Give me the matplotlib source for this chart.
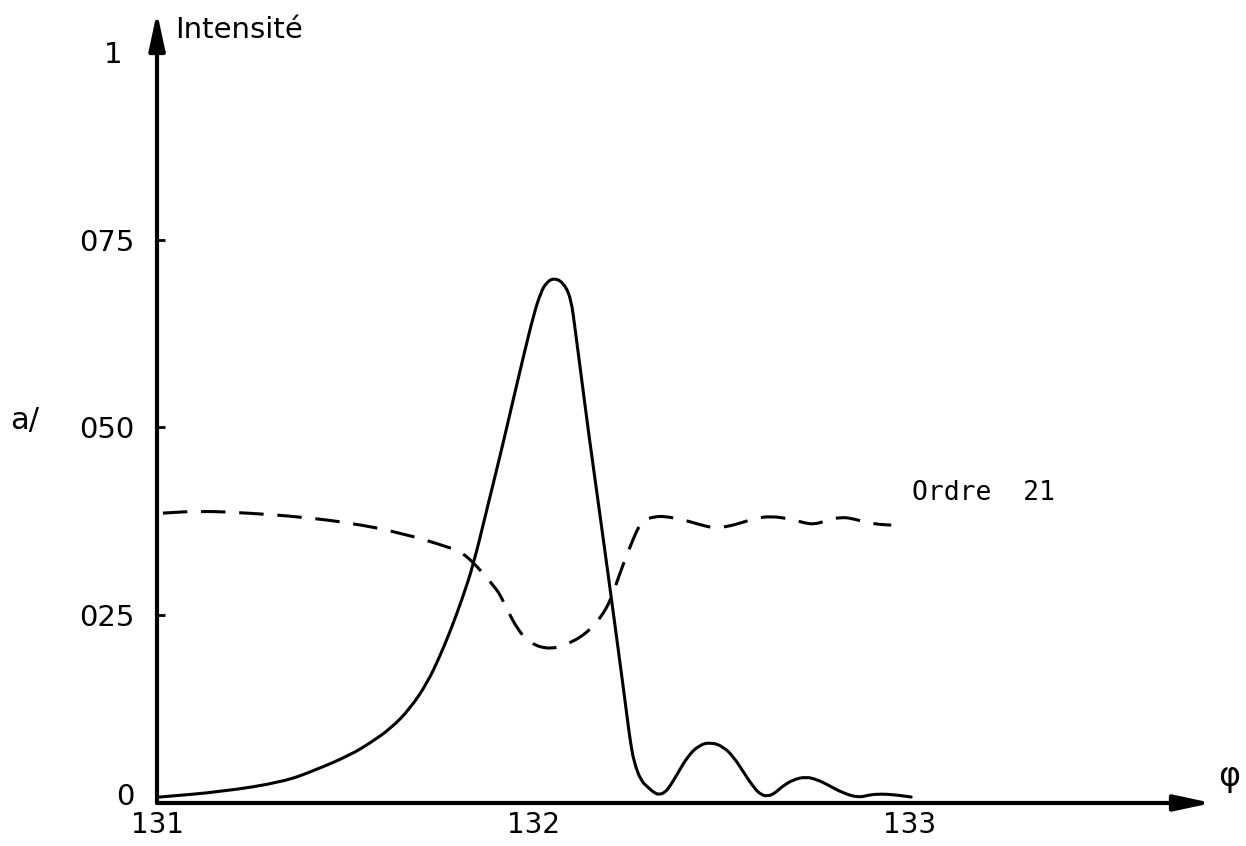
import matplotlib
matplotlib.use("Agg")
import matplotlib.pyplot as plt
from matplotlib.path import Path
from matplotlib.patches import PathPatch
from matplotlib.transforms import ScaledTranslation

# ---- data ----
phi_solid = [131.005, 131.17, 131.333, 131.42, 131.512, 131.565, 131.619, 131.67,
             131.717, 131.75, 131.779, 131.81, 131.84, 131.875, 131.912, 131.94,
             131.973, 132.0, 132.019, 132.034, 132.053, 132.077, 132.099, 132.112,
             132.125, 132.147, 132.179, 132.213, 132.237, 132.25, 132.258, 132.267,
             132.285, 132.304, 132.32, 132.333, 132.35, 132.365, 132.384, 132.41,
             132.44, 132.472, 132.505, 132.533, 132.56, 132.587, 132.605, 132.624,
             132.642, 132.659, 132.69, 132.725, 132.755, 132.784, 132.82, 132.864,
             132.895, 132.925, 132.96, 133.005]
int_solid = [0.008, 0.015, 0.028, 0.044, 0.064, 0.08, 0.099, 0.125,
             0.16, 0.195, 0.23, 0.272, 0.318, 0.39, 0.465, 0.525,
             0.595, 0.65, 0.68, 0.693, 0.699, 0.694, 0.674, 0.625,
             0.575, 0.49, 0.375, 0.25, 0.16, 0.11, 0.08, 0.055,
             0.030, 0.021, 0.014, 0.011, 0.014, 0.024, 0.04, 0.062,
             0.077, 0.081, 0.075, 0.061, 0.04, 0.02, 0.011, 0.009,
             0.013, 0.021, 0.031, 0.035, 0.031, 0.024, 0.014, 0.007,
             0.011, 0.012, 0.011, 0.008]

phi_dash = [131.013, 131.112, 131.245, 131.379, 131.512, 131.645, 131.779, 131.81,
            131.84, 131.875, 131.9, 131.912, 131.935, 131.957, 131.98, 132.005,
            132.025, 132.045, 132.07, 132.099, 132.125, 132.152, 132.18, 132.205,
            132.222, 132.24, 132.267, 132.28, 132.293, 132.32, 132.347, 132.4,
            132.44, 132.48, 132.515, 132.552, 132.59, 132.632, 132.685, 132.72,
            132.747, 132.78, 132.819, 132.855, 132.891, 132.92, 132.952]
int_dash = [0.386, 0.389, 0.386, 0.381, 0.373, 0.36, 0.34, 0.333,
            0.32, 0.30, 0.285, 0.276, 0.252, 0.232, 0.218, 0.21,
            0.207, 0.206, 0.208, 0.214, 0.221, 0.232, 0.248, 0.27,
            0.295, 0.32, 0.354, 0.368, 0.377, 0.381, 0.382, 0.377,
            0.371, 0.366, 0.368, 0.373, 0.379, 0.382, 0.378, 0.373,
            0.371, 0.376, 0.381, 0.378, 0.373, 0.371, 0.37]

xtick_values = [131, 132, 133]
xtick_labels = ["131", "132", "133"]
ytick_values = [0, 0.25, 0.5, 0.75, 1]
ytick_labels = ["0", "025", "050", "075", "1"]


def smooth_path(xs, ys):
    """Quadratic Bezier through midpoints, using the read points as controls."""
    pts = list(zip(xs, ys))
    verts = [pts[0]]
    codes = [Path.MOVETO]
    mids = [((pts[i][0] + pts[i + 1][0]) / 2, (pts[i][1] + pts[i + 1][1]) / 2)
            for i in range(len(pts) - 1)]
    verts.append(mids[0]); codes.append(Path.LINETO)
    for i in range(1, len(pts) - 1):
        verts += [pts[i], mids[i]]
        codes += [Path.CURVE3, Path.CURVE3]
    verts.append(pts[-1]); codes.append(Path.LINETO)
    return Path(verts, codes)


# ---- figure ----
fig = plt.figure(figsize=(12.46, 8.46), dpi=100)
ax = fig.add_axes([157 / 1246, (846 - 803) / 846, (1212 - 157) / 1246, (803 - 12) / 846])
x0 = 131 - 1 / 376
xmax = 131 + (1212 - 157) / 376
ymax = (803 - 12) / 751
ax.set_xlim(x0, xmax)
ax.set_ylim(0, ymax)
for s in ax.spines.values():
    s.set_visible(False)

ax.add_patch(PathPatch(smooth_path(phi_solid, int_solid), fill=False, edgecolor="black",
                       lw=2.2, capstyle="round", joinstyle="round"))
ax.add_patch(PathPatch(smooth_path(phi_dash, int_dash), fill=False, edgecolor="black",
                       lw=2.2, linestyle=(0, (8, 4.5))))

# axes with arrows
arrow_kw = dict(arrowstyle="-|>,head_length=1.4,head_width=0.3", lw=3, color="black",
                mutation_scale=16, shrinkA=0, shrinkB=0)
ax.annotate("", xy=(xmax, 0), xytext=(x0, 0), arrowprops=arrow_kw, annotation_clip=False)
ax.annotate("", xy=(x0, ymax), xytext=(x0, 0), arrowprops=arrow_kw, annotation_clip=False)

ax.set_yticks(ytick_values, ytick_labels)
ax.set_xticks(xtick_values, xtick_labels)
ax.tick_params(axis="y", direction="in", length=6, width=2, pad=16, labelsize=21, left=True)
ax.tick_params(axis="x", length=0, pad=6, labelsize=20)
for lab in ax.get_yticklabels():
    if lab.get_text() == "1":
        lab.set_transform(lab.get_transform() + ScaledTranslation(-12 / 100, 0, fig.dpi_scale_trans))
    if lab.get_text() == "0":
        lab.set_transform(lab.get_transform() + ScaledTranslation(0, 9 / 100, fig.dpi_scale_trans))

fig.text(175 / 1246, 1 - 30 / 846, "Intensité", fontsize=21, ha="left", va="center")
fig.text(1218 / 1246, 1 - 776 / 846, "φ", fontsize=24, ha="left", va="center")
fig.text(10 / 1246, 1 - 420 / 846, "a/", fontsize=22, ha="left", va="center")
fig.text(912 / 1246, 1 - 493 / 846, "Ordre  21", fontsize=19, ha="left", va="center",
         family="DejaVu Sans Mono")

fig.savefig("out.png", dpi=100)
